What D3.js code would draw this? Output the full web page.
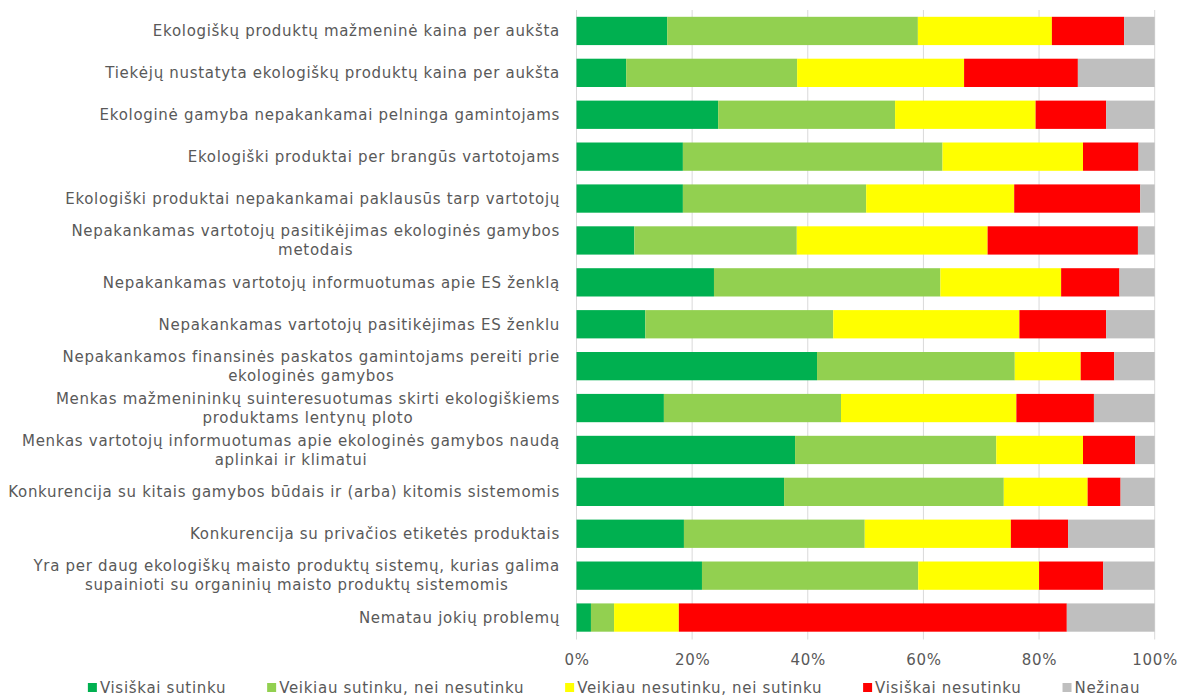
<!DOCTYPE html>
<html>
<head>
<meta charset="utf-8">
<script src="https://cdn.jsdelivr.net/npm/d3@7"></script>
<style>
  body { margin: 0; background: #fff; }
  svg text { font-family: "DejaVu Sans", Verdana, sans-serif; fill: #595959; letter-spacing: 0.7px; }
</style>
</head>
<body>
<svg id="chart" width="1183" height="697"></svg>
<script>
// Categories (top to bottom), "|" marks a line break
const categories = [
    'Ekologiškų produktų mažmeninė kaina per aukšta',
    'Tiekėjų nustatyta ekologiškų produktų kaina per aukšta',
    'Ekologinė gamyba nepakankamai pelninga gamintojams',
    'Ekologiški produktai per brangūs vartotojams',
    'Ekologiški produktai nepakankamai paklausūs tarp vartotojų',
    'Nepakankamas vartotojų pasitikėjimas ekologinės gamybos|metodais',
    'Nepakankamas vartotojų informuotumas apie ES ženklą',
    'Nepakankamas vartotojų pasitikėjimas ES ženklu',
    'Nepakankamos finansinės paskatos gamintojams pereiti prie|ekologinės gamybos',
    'Menkas mažmenininkų suinteresuotumas skirti ekologiškiems|produktams lentynų ploto',
    'Menkas vartotojų informuotumas apie ekologinės gamybos naudą|aplinkai ir klimatui',
    'Konkurencija su kitais gamybos būdais ir (arba) kitomis sistemomis',
    'Konkurencija su privačios etiketės produktais',
    'Yra per daug ekologiškų maisto produktų sistemų, kurias galima|supainioti su organinių maisto produktų sistemomis',
    'Nematau jokių problemų'
];

const seriesNames = [
    'Visiškai sutinku',
    'Veikiau sutinku, nei nesutinku',
    'Veikiau nesutinku, nei sutinku',
    'Visiškai nesutinku',
    'Nežinau'
];

// Percent values per series, in category order
const stronglyAgree = [15.7, 8.6, 24.5, 18.4, 18.4, 10.0, 23.8, 11.9, 41.6, 15.1, 37.8, 35.9, 18.6, 21.7, 2.5];
const ratherAgree = [43.4, 29.6, 30.6, 44.9, 31.7, 28.1, 39.2, 32.5, 34.2, 30.6, 34.8, 38.0, 31.3, 37.4, 4.0];
const ratherDisagree = [23.2, 28.9, 24.3, 24.3, 25.6, 33.0, 20.9, 32.2, 11.4, 30.3, 15.0, 14.5, 25.3, 20.9, 11.2];
const stronglyDisagree = [12.5, 19.7, 12.2, 9.6, 21.8, 26.0, 10.1, 15.0, 5.8, 13.4, 9.0, 5.7, 9.9, 11.1, 67.1];
const dontKnow = [5.3, 13.3, 8.4, 2.8, 2.5, 2.9, 6.1, 8.4, 7.0, 10.5, 3.4, 5.9, 15.0, 8.9, 15.2];

const tickValues = [0, 0.2, 0.4, 0.6, 0.8, 1];
const colors = ['#00B050', '#92D050', '#FFFF00', '#FF0000', '#BFBFBF'];

const svg = d3.select('#chart');
const plot = { left: 576.5, right: 1154.7, top: 10, bottom: 638.5 };

// Build rows for stacking
const keys = ['s0', 's1', 's2', 's3', 's4'];
const allSeries = [stronglyAgree, ratherAgree, ratherDisagree, stronglyDisagree, dontKnow];
const rows = categories.map((c, i) => {
    const total = d3.sum(allSeries, s => s[i]);
    const row = { cat: c };
    keys.forEach((k, j) => { row[k] = allSeries[j][i] / total; });
    return row;
});

const x = d3.scaleLinear().domain([0, 1]).range([plot.left, plot.right]);
const y = d3.scaleBand()
    .domain(categories)
    .range([plot.top, plot.bottom])
    .paddingInner(0.325)
    .paddingOuter(0.1625);

// Gridlines
svg.append('g')
    .selectAll('line')
    .data(tickValues)
    .join('line')
    .attr('x1', d => x(d)).attr('x2', d => x(d))
    .attr('y1', plot.top).attr('y2', plot.bottom + 1)
    .attr('stroke', '#D9D9D9')
    .attr('stroke-width', 1);

// Stacked bars
const stack = d3.stack().keys(keys)(rows);
svg.append('g')
    .selectAll('g')
    .data(stack)
    .join('g')
    .attr('fill', (d, i) => colors[i])
    .selectAll('rect')
    .data(d => d)
    .join('rect')
    .attr('x', d => x(d[0]))
    .attr('y', d => y(d.data.cat))
    .attr('width', d => x(d[1]) - x(d[0]))
    .attr('height', y.bandwidth());

// X axis labels
const xAxis = svg.append('g')
    .attr('transform', `translate(0,${plot.bottom})`)
    .call(d3.axisBottom(x).tickValues(tickValues).tickFormat(d3.format('.0%')).tickSize(0).tickPadding(16));
xAxis.select('.domain').remove();
xAxis.selectAll('text')
    .style('font-size', '15px')
    .style('font-family', '"DejaVu Sans", Verdana, sans-serif')
    .attr('fill', '#595959');

// Category labels: block right-aligned, lines centered within block
const labelRight = 560;
const lineH = 19;
categories.forEach(c => {
    const lines = c.split('|');
    const cy = y(c) + y.bandwidth() / 2;
    const g = svg.append('g');
    const texts = lines.map((ln, i) => g.append('text')
        .attr('y', cy + (i - (lines.length - 1) / 2) * lineH)
        .attr('dy', '0.35em')
        .style('font-size', '15px')
        .text(ln));
    if (lines.length === 1) {
        texts[0].attr('x', labelRight).attr('text-anchor', 'end');
    } else {
        const w = d3.max(texts, t => t.node().getComputedTextLength());
        texts.forEach(t => t.attr('x', labelRight - w / 2).attr('text-anchor', 'middle'));
    }
});

// Legend
const legend = svg.append('g').attr('transform', 'translate(0,688)');
const items = legend.selectAll('g')
    .data(seriesNames)
    .join('g');
items.append('rect')
    .attr('y', -5).attr('width', 9).attr('height', 9)
    .attr('fill', (d, i) => colors[i]);
items.append('text')
    .attr('x', 12)
    .attr('dy', '0.35em')
    .style('font-size', '15px')
    .text(d => d);
const gap = 41;
let cursor = 0;
const widths = [];
items.each(function () {
    const w = this.getBBox().width;
    widths.push(cursor);
    cursor += w + gap;
});
const totalW = cursor - gap;
const start = 614 - totalW / 2;
items.attr('transform', (d, i) => `translate(${start + widths[i]},0)`);
</script>
</body>
</html>
